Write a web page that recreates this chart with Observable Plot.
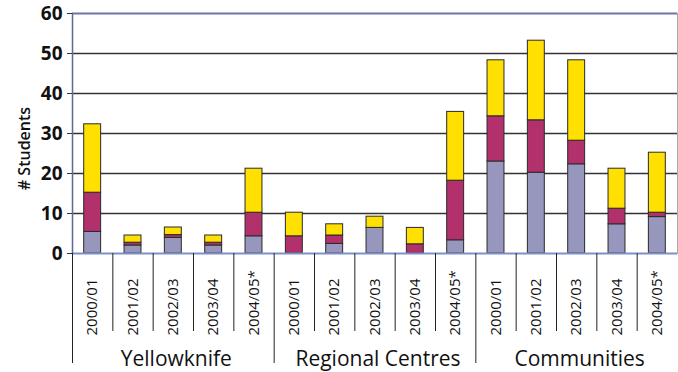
<!DOCTYPE html>
<html>
<head>
<meta charset="utf-8">
<script src="https://cdn.jsdelivr.net/npm/d3@7"></script>
<script src="https://cdn.jsdelivr.net/npm/@observablehq/plot@0.6"></script>
<style>
  html, body { margin: 0; padding: 0; background: #fff; }
  #chart svg { display: block; }
</style>
</head>
<body>
<div id="chart"></div>
<script>
// Student counts by region and school year, three stacked components per bar
const groups = ["Yellowknife", "Regional Centres", "Communities"];
const years = ["2000/01", "2001/02", "2002/03", "2003/04", "2004/05*"];
const lowerCounts  = [5.4, 2.0, 3.9, 2.0, 4.3,   0.0, 2.4, 6.4, 0.0, 3.3,   23.0, 20.2, 22.3, 7.3, 9.1];
const middleCounts = [9.8, 0.7, 0.7, 0.7, 5.9,   4.3, 2.1, 0.0, 2.3, 14.9,  11.3, 13.1, 5.9, 3.9, 1.1];
const upperCounts  = [17.1, 1.8, 1.9, 1.8, 11.0, 5.9, 2.8, 2.8, 4.1, 17.2,  14.0, 19.9, 20.1, 10.0, 15.0];
const seriesNames = ["lower", "middle", "upper"];
const seriesColors = ["#9797bd", "#b2306b", "#ffe000"];
const yTicks = [0, 10, 20, 30, 40, 50, 60];

const W = 678, H = 372;
const M = {top: 13, right: 1, bottom: 119, left: 72};

// one x category per region/year pair
const keys = groups.flatMap(g => years.map(y => `${g}|${y}`));
const yearOf = k => k.split("|")[1];
const step = (W - M.left - M.right) / keys.length;

const series = [lowerCounts, middleCounts, upperCounts];
const rows = [];
keys.forEach((k, i) => {
  series.forEach((vals, s) => {
    if (vals[i] > 0) rows.push({key: k, series: seriesNames[s], value: vals[i]});
  });
});

const groupStarts = keys.filter((k, i) => i % years.length === 0);
const innerStarts = keys.filter((k, i) => i % years.length !== 0);
const groupCenters = groups.map(g => ({key: `${g}|${years[2]}`, label: g}));

const font = "'Open Sans', 'Noto Sans', sans-serif";

const chart = Plot.plot({
  width: W,
  height: H,
  marginTop: M.top,
  marginRight: M.right,
  marginBottom: M.bottom,
  marginLeft: M.left,
  style: {fontFamily: font, color: "#111", background: "#fff"},
  x: {domain: keys, paddingInner: 0.58, paddingOuter: 0.29, round: false, axis: null},
  y: {domain: [0, 60], axis: null},
  color: {domain: seriesNames, range: seriesColors},
  marks: [
    // horizontal gridlines
    Plot.ruleY(yTicks.filter(t => t > 0 && t < 60), {stroke: "#333", strokeWidth: 1.4}),
    Plot.ruleY([60], {stroke: "#6d76a6", strokeWidth: 2}),
    Plot.frame({anchor: "right", stroke: "#aaa", strokeWidth: 1}),
    // stacked bars
    Plot.barY(rows, {
      x: "key", y: "value", fill: "series",
      stroke: "#2a2a2a", strokeWidth: 1
    }),
    // baseline and left axis line
    Plot.ruleY([0], {stroke: "#7f90c8", strokeWidth: 2}),
    Plot.frame({anchor: "left", stroke: "#5b679c", strokeWidth: 1.5}),
    // y axis ticks and labels
    Plot.axisY(yTicks, {
      tickSize: 5, tickPadding: 5, fontSize: 19, fontWeight: "bold",
      stroke: "#333", fill: "#111", label: null
    }),
    Plot.text(["# Students"], {
      frameAnchor: "left", dx: -48, dy: 15, rotate: -90,
      textAnchor: "middle", lineAnchor: "middle",
      fontSize: 16, fontWeight: 600, fill: "#111"
    }),
    // category separators below the axis
    Plot.ruleX(innerStarts, {x: d => d, y1: 0, y2: 0, dx: -step / 2, insetBottom: -78, stroke: "#222", strokeWidth: 1}),
    Plot.ruleX(groupStarts, {x: d => d, y1: 0, y2: 0, dx: -step / 2, insetBottom: -110, stroke: "#222", strokeWidth: 1}),
    // year labels
    Plot.text(keys, {
      x: d => d, text: yearOf, frameAnchor: "bottom", dy: 82,
      rotate: -90, textAnchor: "start", lineAnchor: "middle",
      fontSize: 15, fill: "#111"
    }),
    // region labels
    Plot.text(groupCenters, {
      x: "key", text: "label", frameAnchor: "bottom", dy: 106, dx: 3,
      lineAnchor: "middle", fontSize: 21, fill: "#111"
    })
  ]
});

document.getElementById("chart").append(chart);
</script>
</body>
</html>
